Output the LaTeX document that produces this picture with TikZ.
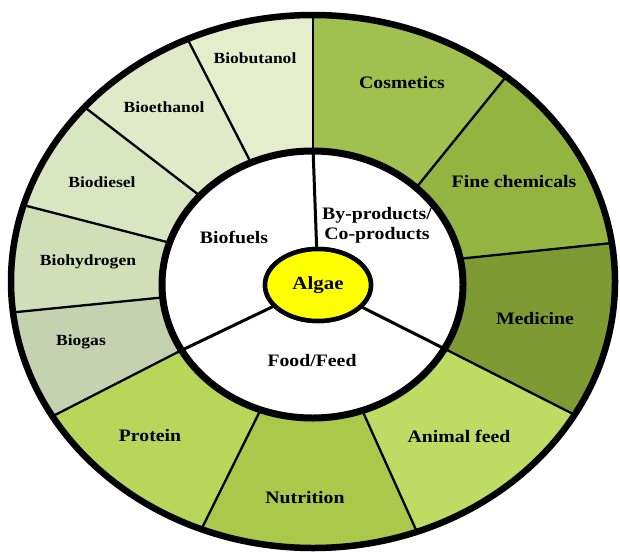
\documentclass[tikz,border=0pt]{standalone}
\usepackage{fontspec}
\setmainfont{Liberation Serif}[FakeStretch=1.13]
\usetikzlibrary{calc,shapes.geometric}
\definecolor{cBbut}{RGB}{228,238,205}
\definecolor{cBeth}{RGB}{224,234,200}
\definecolor{cBdie}{RGB}{218,229,194}
\definecolor{cBhyd}{RGB}{210,222,184}
\definecolor{cBgas}{RGB}{198,210,175}
\definecolor{cProt}{RGB}{183,214,90}
\definecolor{cNutr}{RGB}{170,201,75}
\definecolor{cAnim}{RGB}{190,220,100}
\definecolor{cMedi}{RGB}{125,155,50}
\definecolor{cFine}{RGB}{147,180,64}
\definecolor{cCosm}{RGB}{160,193,80}
\definecolor{cAlgae}{RGB}{255,255,0}
\begin{document}
\begin{tikzpicture}[x=1pt,y=-1pt,
  lab/.style={font=\bfseries\fontsize{17.5}{20}\selectfont, align=center, text=black, inner sep=0pt},
  smalllab/.style={lab, font=\bfseries\fontsize{15.5}{18}\selectfont},
  divider/.style={line width=2.3pt},
  spoke/.style={line width=3pt},
  algaebox/.style={ellipse, draw, line width=4.5pt, fill=cAlgae, minimum width=106pt, minimum height=72pt, inner sep=0pt, font=\bfseries\fontsize{18.5}{20}\selectfont}]
\useasboundingbox (0,0) rectangle (620,551);
\coordinate (C) at (312.5,284.5);
\coordinate (O) at (313,281.5);
% dividers: inner point i, outer point o
\coordinate (i1) at (313,148);  \coordinate (o1) at (313,15);
\coordinate (i2) at (248,157);  \coordinate (o2) at (188,40);
\coordinate (i3) at (195,192);  \coordinate (o3) at (87,109);
\coordinate (i4) at (163,241);  \coordinate (o4) at (27,206);
\coordinate (i5) at (157,298);  \coordinate (o5) at (17,312);
\coordinate (i6) at (178,352);  \coordinate (o6) at (55,415);
\coordinate (i7) at (258,415);  \coordinate (o7) at (202,528);
\coordinate (i8) at (363,412);  \coordinate (o8) at (417,532);
\coordinate (i9) at (447,350);  \coordinate (o9) at (575,415);
\coordinate (i10) at (467,258); \coordinate (o10) at (612,243);
\coordinate (i11) at (420,183); \coordinate (o11) at (505,78);
\begin{scope}
  \clip (O) ellipse [x radius=302pt, y radius=266.5pt];
  \foreach \a/\b/\c in {1/2/cBbut,2/3/cBeth,3/4/cBdie,4/5/cBhyd,5/6/cBgas,6/7/cProt,7/8/cNutr,8/9/cAnim,9/10/cMedi,10/11/cFine,11/1/cCosm}
    \fill[\c] (C) -- (i\a) -- ($(i\a)!4!(o\a)$) -- ($(i\b)!4!(o\b)$) -- (i\b) -- cycle;
  \foreach \k in {1,...,11}
    \draw[divider] ($(i\k)!-0.3!(o\k)$) -- ($(i\k)!1.5!(o\k)$);
\end{scope}
\fill[white] (C) ellipse [x radius=150.5pt, y radius=133.5pt];
\node[algaebox] (algae) at (318,285) {Algae};
\draw[spoke] (algae) -- (i1);
\draw[spoke] (algae) -- (i6);
\draw[spoke] (algae) -- (i9);
\node[algaebox] at (algae) {Algae};
\draw[line width=7pt] (C) ellipse [x radius=150.5pt, y radius=133.5pt];
\draw[line width=6.5pt] (O) ellipse [x radius=302pt, y radius=266.5pt];
% labels
\node[smalllab] (lbut) at (255,58) {Biobutanol};
\node[smalllab] (leth) at (164,107) {Bioethanol};
\node[smalllab] (ldie) at (102,182) {Biodiesel};
\node[smalllab] (lhyd) at (88,262) {Biohydrogen};
\node[smalllab] (lgas) at (81,342) {Biogas};
\node[lab] (lpro) at (150,436) {Protein};
\node[lab] (lnut) at (305,498) {Nutrition};
\node[lab] (lani) at (459,436) {Animal feed};
\node[lab] (lmed) at (535,319) {Medicine};
\node[lab] (lfin) at (514,182) {Fine chemicals};
\node[lab] (lcos) at (402,83) {Cosmetics};
\node[lab] (lbyp) at (377,225) {By-products/\\Co-products};
\node[lab] (lbio) at (234,237) {Biofuels};
\node[lab] (lfood) at (312,361) {Food/Feed};
\end{tikzpicture}
\end{document}
